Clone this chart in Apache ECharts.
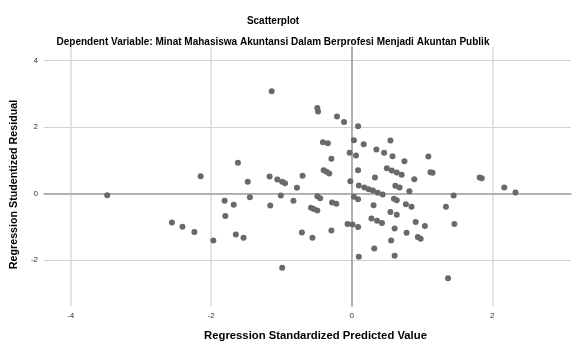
<!DOCTYPE html>
<html>
<head>
<meta charset="utf-8">
<script src="https://cdn.jsdelivr.net/npm/echarts@6/dist/echarts.min.js"></script>
<style>
  html, body { margin: 0; padding: 0; background: #fff; }
  #scatter-chart { width: 576px; height: 341px; }
</style>
</head>
<body>
<div id="scatter-chart"></div>
<script>
// regression standardized predicted value (x) and studentized residual (y)
const predicted = [
  -3.48, -2.15, -2.56, -2.41, -2.24, -1.14, -1.62, -1.48, -1.17, -1.06,
  -0.99, -0.95, -1.45, -1.81, -1.68, -1.16, -1.01, -1.80, -1.97, -1.65,
  -1.54, -0.99, -0.49, -0.48, -0.21, -0.11, 0.09, -0.41, -0.34, -0.29,
  0.03, -0.03, 0.06, 0.09, -0.40, -0.36, -0.32, -0.70, -0.78, -0.02,
  0.10, -0.83, -0.49, -0.45, -0.28, -0.22, 0.03, 0.09, -0.58, -0.54,
  -0.49, -0.06, 0.01, 0.09, -0.29, -0.71, -0.56, 0.10, 0.17, 0.55,
  0.35, 0.46, 0.58, 0.75, 1.09, 1.12, 1.15, 0.33, 0.50, 0.57,
  0.64, 0.71, 0.89, 0.18, 0.24, 0.30, 0.37, 0.44, 0.62, 0.68,
  0.82, 0.60, 0.64, 0.31, 0.77, 0.85, 0.55, 0.64, 0.28, 0.36,
  0.43, 0.61, 0.91, 1.04, 0.78, 0.94, 0.98, 0.56, 0.32, 0.61,
  1.82, 1.85, 2.17, 2.33, 1.45, 1.34, 1.46, 1.37
]
const residual = [
  -0.05, 0.52, -0.87, -1.00, -1.16, 3.07, 0.92, 0.35, 0.51, 0.42,
  0.35, 0.31, -0.11, -0.22, -0.34, -0.36, -0.06, -0.68, -1.41, -1.23,
  -1.33, -2.23, 2.57, 2.46, 2.31, 2.15, 2.02, 1.54, 1.51, 1.04,
  1.60, 1.22, 1.14, 0.70, 0.70, 0.65, 0.60, 0.53, 0.17, 0.37,
  0.24, -0.22, -0.08, -0.14, -0.27, -0.31, -0.10, -0.17, -0.43, -0.47,
  -0.51, -0.92, -0.93, -1.01, -1.11, -1.17, -1.33, -1.90, 1.48, 1.59,
  1.32, 1.22, 1.12, 0.97, 1.11, 0.64, 0.62, 0.48, 0.76, 0.69,
  0.63, 0.56, 0.43, 0.18, 0.13, 0.09, 0.02, -0.03, 0.23, 0.18,
  0.07, -0.16, -0.20, -0.35, -0.32, -0.40, -0.56, -0.64, -0.75, -0.82,
  -0.89, -1.05, -0.86, -0.98, -1.18, -1.31, -1.36, -1.41, -1.65, -1.87,
  0.48, 0.46, 0.18, 0.03, -0.06, -0.40, -0.92, -2.55
]
const xTicks = [-4, -2, 0, 2]
const yTicks = [-2, 0, 2, 4]

const chart = echarts.init(document.getElementById('scatter-chart'))
const points = predicted.map((x, i) => [x, residual[i]])

chart.setOption({
  animation: false,
  title: [
    {
      text: 'Scatterplot',
      left: 268,
      top: 11,
      textAlign: 'center',
      textStyle: { fontFamily: 'Liberation Sans', fontSize: 10, fontWeight: 'bold', color: '#000' }
    },
    {
      text: 'Dependent Variable: Minat Mahasiswa Akuntansi Dalam Berprofesi Menjadi Akuntan Publik',
      left: 268,
      top: 32,
      textAlign: 'center',
      textStyle: { fontFamily: 'Liberation Sans', fontSize: 10, fontWeight: 'bold', color: '#000' }
    }
  ],
  grid: { left: 44, top: 47, right: 5, bottom: 35, outerBoundsMode: 'none' },
  xAxis: {
    type: 'value',
    min: -4.38,
    max: 3.12,
    name: 'Regression Standardized Predicted Value',
    nameLocation: 'middle',
    nameGap: 24,
    nameTextStyle: { fontFamily: 'Liberation Sans', fontSize: 11.3, fontWeight: 'bold', color: '#000', padding: [0, 0, 0, 16] },
    axisLine: { lineStyle: { color: '#a0a0a0', width: 1.5 } },
    axisTick: { show: false, customValues: xTicks },
    axisLabel: { customValues: xTicks, fontFamily: 'Liberation Sans', fontSize: 8, color: '#333', margin: 6 },
    splitLine: { show: true, lineStyle: { color: '#dadada', width: 1.5 } }
  },
  yAxis: {
    type: 'value',
    min: -3.38,
    max: 4.4,
    name: 'Regression Studentized Residual',
    nameLocation: 'middle',
    nameGap: 15,
    nameTextStyle: { fontFamily: 'Liberation Sans', fontSize: 10.7, fontWeight: 'bold', color: '#000', padding: [0, 16, 0, 0] },
    axisLine: { show: true, lineStyle: { color: '#a0a0a0', width: 1.5 } },
    axisTick: { show: false, customValues: yTicks },
    axisLabel: { customValues: yTicks, fontFamily: 'Liberation Sans', fontSize: 8, color: '#333', margin: 6 },
    splitLine: { show: true, lineStyle: { color: '#d2d2d2', width: 1 } }
  },
  series: [
    {
      type: 'scatter',
      data: points,
      symbolSize: 6,
      itemStyle: { color: '#696969', opacity: 1 }
    }
  ]
})
</script>
</body>
</html>
